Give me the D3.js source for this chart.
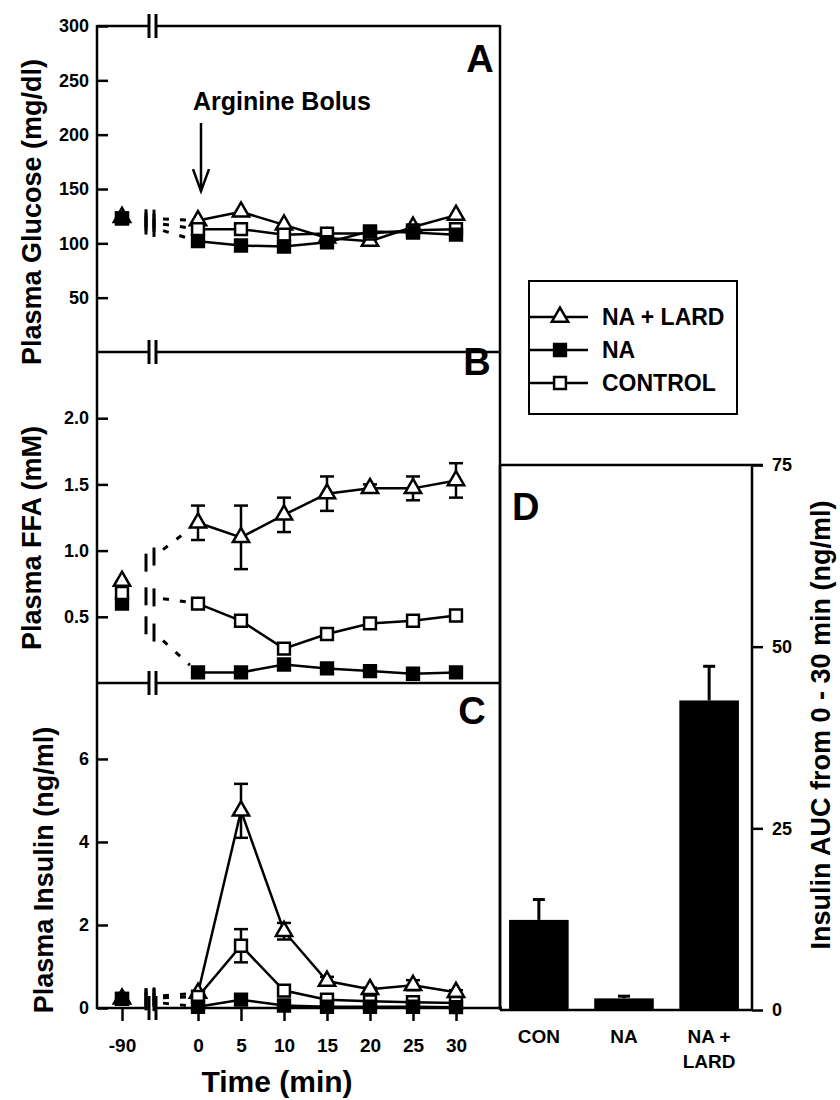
<!DOCTYPE html>
<html>
<head>
<meta charset="utf-8">
<script src="https://cdn.jsdelivr.net/npm/d3@7"></script>
<style>
  body { margin: 0; background: #fff; }
  svg text { font-family: "Liberation Sans Narrow", "Arial Narrow", "Liberation Sans", Arial, sans-serif; font-weight: bold; fill: #000; }
  .ax line, .ax path { stroke: #000; stroke-width: 2.5px; }
</style>
</head>
<body>
<svg id="chart" width="840" height="1100"></svg>
<script>
// time points (first one sits left of the axis break)
const timePoints = [-90, 0, 5, 10, 15, 20, 25, 30];
const timeLabels = ['-90', '0', '5', '10', '15', '20', '25', '30'];
const legendNames = ['NA + LARD', 'NA', 'CONTROL'];

// A: plasma glucose (mg/dl)
const glucoseLard = [124, 121, 129, 117, 105, 102, 115, 126];
const glucoseNA   = [123, 102, 98, 97, 101, 111, 110, 108];
const glucoseCon  = [123, 113, 113, 108, 109, 109, 112, 113];
const glucoseTicks = [50, 100, 150, 200, 250, 300];

// B: plasma FFA (mM)
const ffaLard    = [0.77, 1.21, 1.10, 1.27, 1.43, 1.47, 1.47, 1.53];
const ffaLardErr = [0, 0.13, 0.24, 0.13, 0.13, 0.03, 0.09, 0.13];
const ffaNA      = [0.60, 0.08, 0.08, 0.14, 0.11, 0.09, 0.07, 0.08];
const ffaCon     = [0.68, 0.60, 0.47, 0.26, 0.37, 0.45, 0.47, 0.51];
const ffaConErr  = [0, 0, 0.04, 0.03, 0.03, 0.02, 0.02, 0.02];
const ffaTicks = [0.5, 1.0, 1.5, 2.0];

// C: plasma insulin (ng/ml)
const insLard    = [0.22, 0.36, 4.75, 1.85, 0.65, 0.45, 0.55, 0.38];
const insLardErr = [0, 0.05, 0.65, 0.2, 0.1, 0.04, 0.12, 0.05];
const insNA      = [0.22, 0.03, 0.20, 0.06, 0.03, 0.03, 0.03, 0.02];
const insCon     = [0.22, 0.27, 1.50, 0.42, 0.20, 0.16, 0.14, 0.12];
const insConErr  = [0, 0, 0.40, 0.05, 0.04, 0.03, 0.03, 0.02];
const insTicks = [0, 2, 4, 6];

// D: insulin AUC 0-30 min
const aucGroups = ['CON', 'NA', 'NA + LARD'];
const aucValues = [12.4, 1.6, 42.6];
const aucErr    = [2.8, 0.3, 4.7];
const aucTicks  = [0, 25, 50, 75];

var svg = d3.select('#chart');

var left = 97, right = 500;
var topA = 26, topB = 352, topC = 683, bottom = 1008;

var x = d3.scaleLinear().domain([-90, 0, 30]).range([122, 198, 456]);
var breakX = x(-90) + 27;

var yA = d3.scaleLinear().domain([0, 300]).range([topB, topA]);
var yB = d3.scaleLinear().domain([0, 2.5]).range([topC, topB]);
var yC = d3.scaleLinear().domain([0, 7.83]).range([bottom, topC]);
var yD = d3.scaleLinear().domain([0, 75]).range([1010, 465]);

function line(g, x1, y1, x2, y2, w) {
    return g.append('line')
        .attr('x1', x1).attr('y1', y1).attr('x2', x2).attr('y2', y2)
        .attr('stroke', '#000').attr('stroke-width', w || 2.5);
}

// frame of the A/B/C stack
var frame = svg.append('g');
line(frame, left, topA, right, topA);
line(frame, left, topB, right, topB);
line(frame, left, topC, right, topC);
line(frame, left, bottom, right + 2, bottom);
line(frame, left, topA - 1, left, bottom + 1);
line(frame, right, topA - 1, right, bottom + 1);

// axis break "||" on every horizontal rule
[topA, topB, topC, bottom].forEach(function(yy) {
    frame.append('rect').attr('x', breakX).attr('y', yy - 4).attr('width', 7).attr('height', 8).attr('fill', '#fff');
    line(frame, breakX, yy - 12, breakX, yy + 12, 3);
    line(frame, breakX + 7, yy - 12, breakX + 7, yy + 12, 3);
});

// y axes
function leftAxis(scale, ticks, fmt) {
    var g = svg.append('g').attr('class', 'ax')
        .attr('transform', 'translate(' + left + ',0)')
        .call(d3.axisLeft(scale).tickValues(ticks).tickSize(-11).tickPadding(8).tickFormat(fmt));
    g.select('.domain').remove();
    g.selectAll('text').style('font-size', '18px');
    return g;
}
leftAxis(yA, glucoseTicks, d3.format('d'));
leftAxis(yB, ffaTicks, d3.format('.1f'));
leftAxis(yC, insTicks, d3.format('d'));

// time axis
var xg = svg.append('g').attr('class', 'ax')
    .attr('transform', 'translate(0,' + bottom + ')')
    .call(d3.axisBottom(x).tickValues(timePoints).tickSize(13).tickPadding(18)
        .tickFormat(function(d, i) { return timeLabels[i]; }));
xg.select('.domain').remove();
xg.selectAll('text').style('font-size', '19px');

// axis titles
function vTitle(label, tx, ty, size) {
    svg.append('text')
        .attr('transform', 'translate(' + tx + ',' + ty + ') rotate(-90)')
        .attr('text-anchor', 'middle')
        .style('font-size', size + 'px')
        .text(label);
}
vTitle('Plasma Glucose (mg/dl)', 41, 212, 27);
vTitle('Plasma FFA (mM)', 41, 538, 27);
vTitle('Plasma Insulin (ng/ml)', 53, 870, 27);

svg.append('text').attr('x', 277).attr('y', 1092).attr('text-anchor', 'middle')
    .style('font-size', '30px').text('Time (min)');

// panel letters
[['A', 480, yA(258)], ['B', 477, yB(2.33)], ['C', 472, yC(6.85)]].forEach(function(p) {
    svg.append('text').attr('x', p[1]).attr('y', p[2]).attr('text-anchor', 'middle')
        .style('font-size', '38px').text(p[0]);
});

// arginine bolus arrow
svg.append('text').attr('x', 193).attr('y', 110).style('font-size', '25px').text('Arginine Bolus');
var ax0 = x(0) + 3;
line(svg, ax0, 123, ax0, yA(148));
svg.append('path')
    .attr('d', 'M' + (ax0 - 8) + ',' + (yA(148) - 22) + 'L' + ax0 + ',' + yA(148) + 'L' + (ax0 + 8) + ',' + (yA(148) - 22))
    .attr('fill', 'none').attr('stroke', '#000').attr('stroke-width', 2.5);

// markers
var sqSym = d3.symbol().type(d3.symbolSquare).size(140);
var triSym = d3.symbol().type(d3.symbolTriangle).size(115);

function marker(g, kind, cx, cy) {
    g.append('path')
        .attr('d', kind === 'tri' ? triSym() : sqSym())
        .attr('transform', 'translate(' + cx + ',' + cy + ')')
        .attr('fill', kind === 'fill' ? '#000' : '#fff')
        .attr('stroke', '#000')
        .attr('stroke-width', 2.5);
}

function errBar(g, cx, cy0, cy1) {
    line(g, cx, cy0, cx, cy1);
    line(g, cx - 7, cy0, cx + 7, cy0);
    line(g, cx - 7, cy1, cx + 7, cy1);
}

// dashed link from -90 across the break to time 0
function connector(g, y, vals) {
    var x0 = x(-90), y0 = y(vals[0]), x1 = x(0), y1 = y(vals[1]);
    var yAt = function(xx) { return y0 + (y1 - y0) * (xx - x0) / (x1 - x0); };
    [breakX - 3, breakX + 5].forEach(function(bx) {
        line(g, bx, yAt(bx) - 9, bx, yAt(bx) + 9, 3);
    });
    line(g, breakX + 14, yAt(breakX + 14), x1 - 8, yAt(x1 - 8), 3)
        .attr('stroke-dasharray', '6,11');
}

function drawSeries(y, vals, errs, kind) {
    var g = svg.append('g');
    connector(g, y, vals);
    var pts = timePoints.map(function(t, i) { return [x(t), y(vals[i])]; }).slice(1);
    g.append('path')
        .attr('d', d3.line()(pts))
        .attr('fill', 'none').attr('stroke', '#000').attr('stroke-width', 2.5);
    if (errs) {
        timePoints.forEach(function(t, i) {
            if (i > 0 && errs[i] > 0) errBar(g, x(t), y(vals[i] + errs[i]), y(vals[i] - errs[i]));
        });
    }
    timePoints.forEach(function(t, i) { marker(g, kind, x(t), y(vals[i])); });
}

drawSeries(yA, glucoseLard, null, 'tri');
drawSeries(yA, glucoseCon, null, 'open');
drawSeries(yA, glucoseNA, null, 'fill');

drawSeries(yB, ffaLard, ffaLardErr, 'tri');
drawSeries(yB, ffaNA, null, 'fill');
drawSeries(yB, ffaCon, ffaConErr, 'open');

drawSeries(yC, insLard, insLardErr, 'tri');
drawSeries(yC, insCon, insConErr, 'open');
drawSeries(yC, insNA, null, 'fill');

// legend
var lg = svg.append('g');
lg.append('rect').attr('x', 529).attr('y', 281).attr('width', 208).attr('height', 133)
    .attr('fill', '#fff').attr('stroke', '#000').attr('stroke-width', 2);
['tri', 'fill', 'open'].forEach(function(kind, i) {
    var ly = 317 + i * 33;
    line(lg, 529, ly, 588, ly);
    marker(lg, kind, 560, ly);
    lg.append('text').attr('x', 602).attr('y', ly + 8).style('font-size', '23px').text(legendNames[i]);
});

// panel D
var band = d3.scaleBand().domain(aucGroups).range([498, 750]).paddingInner(0.3).paddingOuter(0.13);
var dg = svg.append('g');
line(dg, right, 465, 763, 465);
line(dg, right, 1010, 752, 1010);
line(dg, right, 465, right, 1010);
var dAxis = svg.append('g').attr('class', 'ax')
    .attr('transform', 'translate(752,0)')
    .call(d3.axisRight(yD).tickValues(aucTicks).tickSize(11).tickPadding(9));
dAxis.select('.domain').attr('d', 'M0,' + yD(75) + 'V' + yD(0));
dAxis.selectAll('text').style('font-size', '18px');

aucGroups.forEach(function(name, i) {
    var bx = band(name), bw = band.bandwidth();
    dg.append('rect').attr('x', bx).attr('y', yD(aucValues[i]))
        .attr('width', bw).attr('height', yD(0) - yD(aucValues[i])).attr('fill', '#000');
    var cx = bx + bw / 2;
    line(dg, cx, yD(aucValues[i]), cx, yD(aucValues[i] + aucErr[i]), 3);
    line(dg, cx - 6, yD(aucValues[i] + aucErr[i]), cx + 6, yD(aucValues[i] + aucErr[i]), 3);
    var words = name === 'NA + LARD' ? ['NA +', 'LARD'] : [name];
    words.forEach(function(w, j) {
        dg.append('text').attr('x', cx).attr('y', 1043 + j * 25).attr('text-anchor', 'middle')
            .style('font-size', '19px').text(w);
    });
});
svg.append('text').attr('x', 512).attr('y', 520).style('font-size', '38px').text('D');
vTitle('Insulin AUC from 0 - 30 min (ng/ml)', 830, 725, 27);
</script>
</body>
</html>
